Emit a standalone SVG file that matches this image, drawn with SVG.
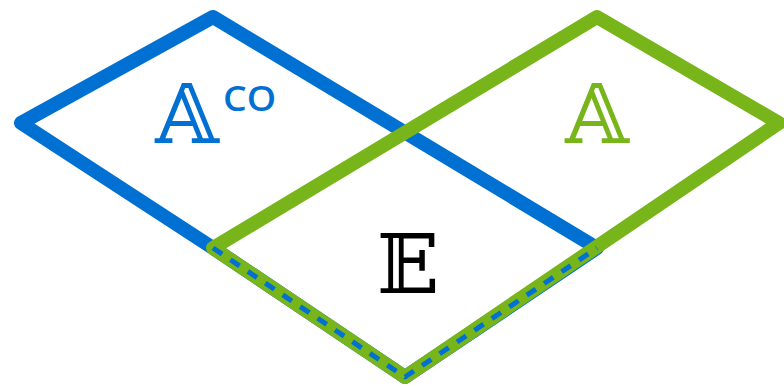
<svg xmlns="http://www.w3.org/2000/svg" width="784" height="387" viewBox="0 0 784 387">
  <style>
    .edge { fill: none; stroke-linejoin: round; stroke-linecap: round; }
    .blue { stroke: #0070d2; stroke-width: 14; }
    .green { stroke: #78b51a; stroke-width: 14; }
    .dash { stroke: #0070d2; stroke-width: 5; stroke-dasharray: 11 10; fill: none; stroke-linejoin: round; }
    .bb { font-family: "DejaVu Serif", "DejaVu Sans", serif; font-size: 82px; text-anchor: middle; }
    .lab { font-family: "Open Sans", "Liberation Sans", sans-serif; font-size: 34px; font-weight: 600; }
  </style>
  <g id="connectors">
    <polygon id="blue-set" class="edge blue" points="21,123 213,17 597,248 405,377 213,248"/>
    <polygon id="green-set" class="edge green" points="213,248 597,17 779,123 405,377"/>
    <polyline id="shared-boundary" class="dash" points="213,248 405,377 597,248"/>
  </g>
  <g id="node-aco">
    <text class="bb" x="187" y="143" fill="#0070d2">𝔸</text>
    <text class="lab" transform="translate(223 111) scale(1.1 1)" x="0" y="0" fill="#0070d2">CO</text>
  </g>
  <g id="node-a">
    <text class="bb" x="597" y="143" fill="#78b51a">𝔸</text>
  </g>
  <g id="node-e">
    <text class="bb" x="408" y="293" fill="#000">𝔼</text>
  </g>
</svg>
